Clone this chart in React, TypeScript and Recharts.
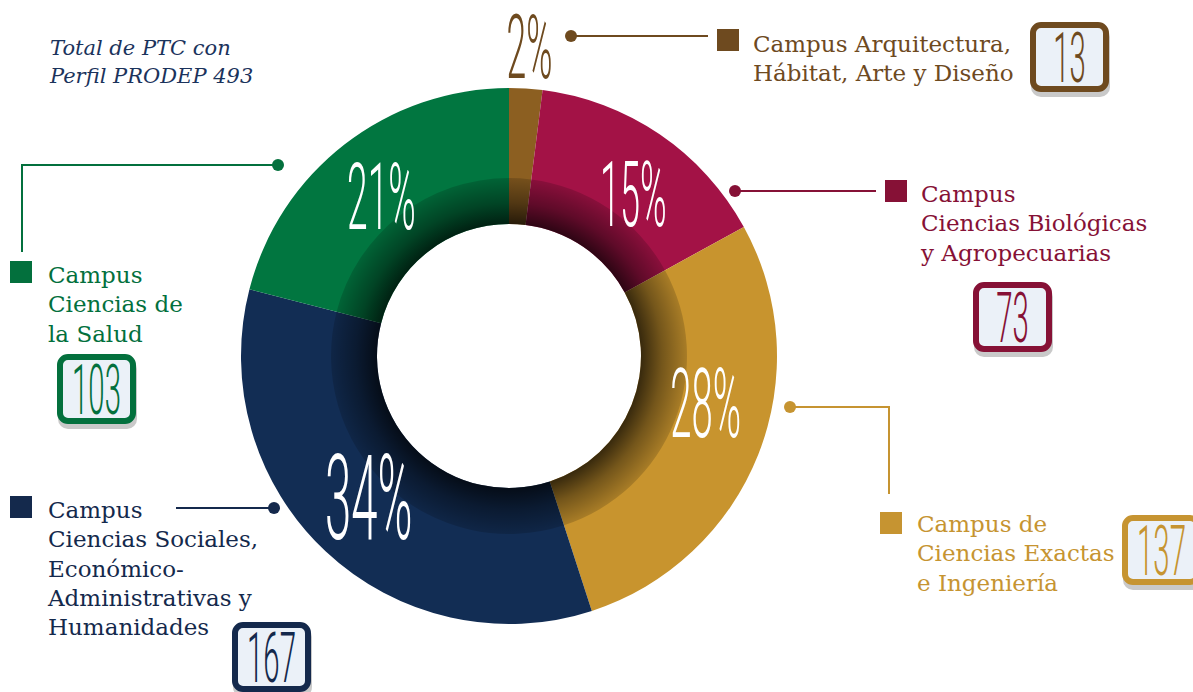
import { PieChart, Pie, Cell } from 'recharts'

// campus order follows the ring clockwise from 12 o'clock
const campusNames = [
  'Campus Arquitectura, Hábitat, Arte y Diseño',
  'Campus Ciencias Biológicas y Agropecuarias',
  'Campus de Ciencias Exactas e Ingeniería',
  'Campus Ciencias Sociales, Económico-Administrativas y Humanidades',
  'Campus Ciencias de la Salud',
]
const legendLines = [
  ['Campus Arquitectura,', 'Hábitat, Arte y Diseño'],
  ['Campus', 'Ciencias Biológicas', 'y Agropecuarias'],
  ['Campus de', 'Ciencias Exactas', 'e Ingeniería'],
  ['Campus', 'Ciencias Sociales,', 'Económico-', 'Administrativas y', 'Humanidades'],
  ['Campus', 'Ciencias de', 'la Salud'],
]
const counts = [13, 73, 137, 167, 103]
const percents = [2, 15, 28, 34, 21]
const titleLines = ['Total de PTC con', 'Perfil PRODEP 493']

const sliceColors = ['#8c5f21', '#a31246', '#c8942e', '#122d54', '#017640']
const legendColors = ['#6e4a1f', '#861136', '#c69431', '#14294c', '#03703d']

const W = 1193
const H = 692
const CX = 509
const CY = 356
const R_OUT = 268
const R_IN = 132
const R_SHADE = 178

// label placement tweaks (px)
const labelRadius = [310, 205, 205, 205, 205]
const labelNudge = [[1, 0], [9, 8], [6, -28], [0, -8], [-2, 2]]
const labelCap = [63, 64, 68, 84, 66]

// callout layout: dot, leader path, legend square, first text baseline, number box
const callouts = [
  { path: 'M571,36 L708,36', dot: [571, 36], sq: [717, 29], tx: 753, ty: 52, box: [1030, 22] },
  { path: 'M735,191 L876,191', dot: [735, 191], sq: [885, 180], tx: 921, ty: 202, box: [973, 282] },
  { path: 'M790,407 L889,407 L889,494', dot: [790, 407], sq: [880, 512], tx: 917, ty: 532, box: [1122, 515] },
  { path: 'M274,508 L176,508', dot: [274, 508], sq: [10, 496], tx: 48, ty: 518, box: [232, 622] },
  { path: 'M278,165 L22,165 L22,252', dot: [278, 165], sq: [10, 261], tx: 48, ty: 283, box: [57, 354] },
]

const data = campusNames.map((name, i) => ({ name, value: percents[i], count: counts[i] }))

const RADIAN = Math.PI / 180

const renderPct = (props: any) => {
  const { cx, cy, midAngle, index } = props
  const r = labelRadius[index]
  const x = cx + r * Math.cos(-midAngle * RADIAN) + labelNudge[index][0]
  const y = cy + r * Math.sin(-midAngle * RADIAN) + labelNudge[index][1]
  const fs = labelCap[index] / 0.711
  return (
    <text
      transform={`translate(${x},${y + fs * 0.355}) scale(0.4,1)`}
      textAnchor="middle"
      fill={index === 0 ? legendColors[0] : '#ffffff'}
      fontFamily="Roboto, 'DejaVu Sans', sans-serif"
      fontWeight={300}
      fontSize={fs}
    >
      {percents[index]}%
    </text>
  )
}

function NumberBox({ x, y, color, value }: { x: number; y: number; color: string; value: number }) {
  const bw = 79
  const bh = 70
  const fs = 70
  return (
    <g>
      <rect x={x + 1} y={y + 5} width={bw} height={bh} rx={10} fill="#c9c9c9" />
      <rect x={x + 3} y={y + 3} width={bw - 6} height={bh - 6} rx={8} fill="#ebf1f8" stroke={color} strokeWidth={6} />
      <text
        transform={`translate(${x + bw / 2},${y + bh / 2 + fs * 0.355}) scale(0.42,1)`}
        textAnchor="middle"
        fill={color}
        fontFamily="Roboto, 'DejaVu Sans', sans-serif"
        fontWeight={300}
        fontSize={fs}
      >
        {value}
      </text>
    </g>
  )
}

export default function App() {
  return (
    <div style={{ position: 'absolute', left: 0, top: 0, width: W, height: H, overflow: 'hidden', background: '#fff' }}>
      <PieChart width={W} height={H} margin={{ top: 0, right: 0, bottom: 0, left: 0 }}>
        <defs>
          <radialGradient id="innerShade" gradientUnits="userSpaceOnUse" cx={CX} cy={CY} r={R_SHADE}>
            <stop offset={R_IN / R_SHADE} stopColor="#000" stopOpacity={0.72} />
            <stop offset={0.86} stopColor="#000" stopOpacity={0.42} />
            <stop offset={1} stopColor="#000" stopOpacity={0.16} />
          </radialGradient>
        </defs>
        <Pie
          data={data}
          dataKey="value"
          cx={CX}
          cy={CY}
          innerRadius={R_IN}
          outerRadius={R_OUT}
          startAngle={90}
          endAngle={-270}
          stroke="none"
          label={renderPct}
          labelLine={false}
          isAnimationActive={false}
        >
          {data.map((d, i) => (
            <Cell key={d.name} fill={sliceColors[i]} />
          ))}
        </Pie>
        <Pie
          data={data}
          dataKey="value"
          cx={CX}
          cy={CY}
          innerRadius={R_IN}
          outerRadius={R_SHADE}
          startAngle={90}
          endAngle={-270}
          stroke="none"
          fill="url(#innerShade)"
          isAnimationActive={false}
        />
      </PieChart>

      <svg width={W} height={H} style={{ position: 'absolute', left: 0, top: 0, pointerEvents: 'none' }}>
        {titleLines.map((t, i) => (
          <text
            key={t}
            x={50}
            y={55 + i * 28}
            fill="#1b335c"
            fontFamily="'DejaVu Serif', serif"
            fontStyle="italic"
            fontSize={21}
          >
            {t}
          </text>
        ))}
        {callouts.map((c, i) => (
          <g key={campusNames[i]}>
            <path d={c.path} fill="none" stroke={legendColors[i]} strokeWidth={2} />
            <circle cx={c.dot[0]} cy={c.dot[1]} r={6} fill={legendColors[i]} />
            <rect x={c.sq[0]} y={c.sq[1]} width={22} height={22} fill={legendColors[i]} />
            {legendLines[i].map((line, j) => (
              <text
                key={line}
                x={c.tx}
                y={c.ty + j * 29.3}
                fill={legendColors[i]}
                fontFamily="'DejaVu Serif', serif"
                fontSize={23}
              >
                {line}
              </text>
            ))}
            <NumberBox x={c.box[0]} y={c.box[1]} color={legendColors[i]} value={counts[i]} />
          </g>
        ))}
      </svg>
    </div>
  )
}
